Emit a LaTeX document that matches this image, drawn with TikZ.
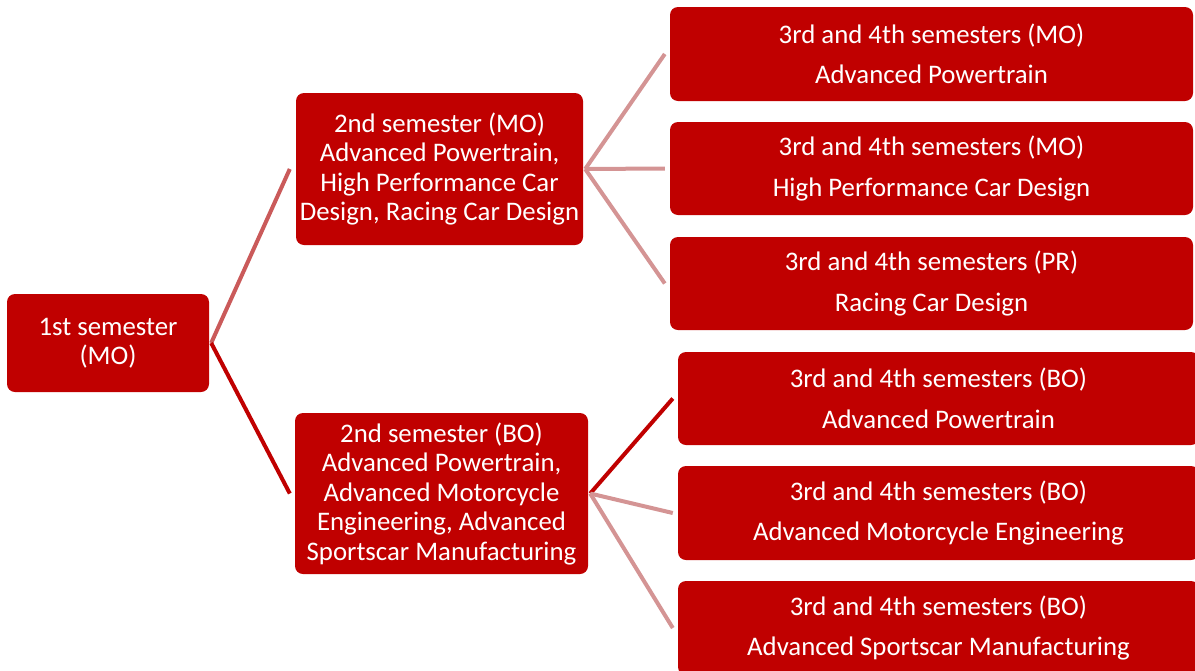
\documentclass[tikz,border=0pt]{standalone}
\usepackage{fontspec}
\setmainfont{Carlito}
\usepackage{tikz}

\definecolor{semred}{HTML}{C00000}
\definecolor{linkmid}{HTML}{CA5A5A}
\definecolor{linkpale}{HTML}{D49494}

\tikzset{
  sem/.style={fill=semred, text=white, rounded corners=8pt, inner sep=0pt,
    align=center, font=\fontsize{26.8}{29.5}\selectfont},
  link/.style={line width=4pt},
}

\begin{document}
\begin{tikzpicture}[x=1pt, y=-1pt]
\clip (0,0) rectangle (1195,670);
\node [sem, minimum width=202pt, minimum height=98pt] (S1) at (108,343) {1st semester\\(MO)};
\node [sem, minimum width=287pt, minimum height=152pt] (MO2) at (439.5,169) {2nd semester (MO)\\Advanced Powertrain,\\High Performance Car\\Design, Racing Car Design};
\node [sem, minimum width=293pt, minimum height=161pt] (BO2) at (441.5,493.5) {2nd semester (BO)\\Advanced Powertrain,\\Advanced Motorcycle\\Engineering, Advanced\\Sportscar Manufacturing};
\node [sem, minimum width=523pt, minimum height=94pt] (MO3a) at (931.5,54) {3rd and 4th semesters (MO)\\[11pt]Advanced Powertrain};
\node [sem, minimum width=523pt, minimum height=93pt] (MO3b) at (931.5,168.5) {3rd and 4th semesters (MO)\\[11pt]High Performance Car Design};
\node [sem, minimum width=523pt, minimum height=93pt] (PR3) at (931.5,283.5) {3rd and 4th semesters (PR)\\[11pt]Racing Car Design};
\node [sem, minimum width=521pt, minimum height=93pt] (BO3a) at (938.5,398.5) {3rd and 4th semesters (BO)\\[11pt]Advanced Powertrain};
\node [sem, minimum width=521pt, minimum height=94pt] (BO3b) at (938.5,513) {3rd and 4th semesters (BO)\\[11pt]Advanced Motorcycle Engineering};
\node [sem, minimum width=521pt, minimum height=94pt] (BO3c) at (938.5,628) {3rd and 4th semesters (BO)\\[11pt]Advanced Sportscar Manufacturing};
\draw [link, linkmid] ([xshift=2pt]S1.east) -- ([xshift=-6pt]MO2.west);
\draw [link, semred] ([xshift=2pt]S1.east) -- ([xshift=-5pt]BO2.west);
\draw [link, linkpale] ([xshift=2pt]MO2.east) -- ([xshift=-5pt]MO3a.west);
\draw [link, linkpale] ([xshift=2pt]MO2.east) -- ([xshift=-5pt]MO3b.west);
\draw [link, linkpale] ([xshift=2pt]MO2.east) -- ([xshift=-5pt]PR3.west);
\draw [link, semred] ([xshift=2pt]BO2.east) -- ([xshift=-5pt]BO3a.west);
\draw [link, linkpale] ([xshift=2pt]BO2.east) -- ([xshift=-5pt]BO3b.west);
\draw [link, linkpale] ([xshift=2pt]BO2.east) -- ([xshift=-5pt]BO3c.west);
\end{tikzpicture}
\end{document}
